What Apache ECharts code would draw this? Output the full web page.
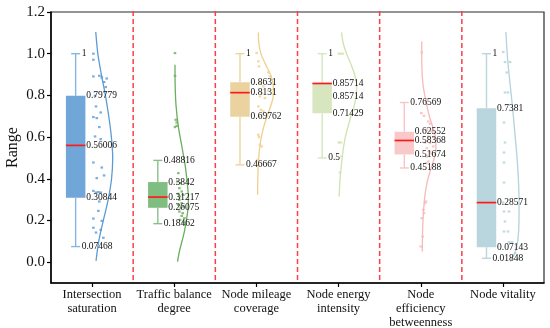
<!DOCTYPE html>
<html>
<head>
<meta charset="utf-8">
<script src="https://cdn.jsdelivr.net/npm/echarts@6/dist/echarts.min.js"></script>
<style>html,body{margin:0;padding:0;background:#fff}#c{width:550px;height:328px}</style>
</head>
<body>
<div id="c"></div>
<script>
// ---------- data ----------
const categories = ['Intersection\nsaturation','Traffic balance\ndegree','Node mileage\ncoverage','Node energy\nintensity','Node\nefficiency\nbetweenness','Node vitality'];
const boxPositions = [1, 2, 3, 4, 5, 6];
const tickPositions = [1.2, 2.2, 3.2, 4.2, 5.2, 6.2];
const separators = [1.7, 2.7, 3.7, 4.7, 5.7];
const yTicks = [0, 0.2, 0.4, 0.6, 0.8, 1.0, 1.2];

const whiskerLow  = [0.07468, 0.18462, 0.46667, 0.5,     0.45188, 0.01848];
const quartile1   = [0.30844, 0.26075, 0.69762, 0.71429, 0.51674, 0.07143];
const median      = [0.56006, 0.31217, 0.8131,  0.85714, 0.58368, 0.28571];
const quartile3   = [0.79779, 0.3842,  0.8631,  0.85714, 0.62552, 0.7381];
const whiskerHigh = [1,       0.48816, 1,       1,       0.76569, 1];

// raw points: [value, horizontal offset from box position]
const points1 = [[1.0,0.216],[0.971,0.216],[0.891,0.216],[0.894,0.288],[0.886,0.318],[0.881,0.378],[0.864,0.346],[0.840,0.366],[0.798,0.236],[0.747,0.248],[0.718,0.305],[0.696,0.216],[0.691,0.257],[0.648,0.288],[0.603,0.236],[0.590,0.305],[0.478,0.216],[0.454,0.318],[0.416,0.346],[0.403,0.257],[0.342,0.216],[0.336,0.276],[0.334,0.248],[0.334,0.305],[0.291,0.288],[0.246,0.276],[0.209,0.216],[0.198,0.318],[0.165,0.216],[0.155,0.305],[0.142,0.248],[0.117,0.337]];
const points2 = [[1.003,0.209],[0.894,0.209],[0.683,0.218],[0.670,0.230],[0.654,0.230],[0.648,0.209],[0.427,0.249],[0.387,0.237],[0.379,0.279],[0.355,0.262],[0.339,0.291],[0.328,0.249],[0.323,0.310],[0.315,0.270],[0.299,0.262],[0.283,0.291],[0.275,0.249],[0.267,0.310],[0.259,0.279],[0.243,0.262],[0.235,0.303],[0.222,0.291],[0.211,0.323],[0.203,0.270],[0.190,0.310]];
const points3 = [[1.003,0.203],[0.963,0.223],[0.939,0.231],[0.910,0.344],[0.891,0.365],[0.859,0.243],[0.843,0.284],[0.823,0.344],[0.811,0.264],[0.795,0.243],[0.787,0.304],[0.747,0.223],[0.731,0.256],[0.723,0.284],[0.699,0.231],[0.611,0.223],[0.600,0.231],[0.563,0.243],[0.555,0.264],[0.491,0.215]];
const points4 = [[1.0,0.203],[1.0,0.228],[1.0,0.252],[0.574,0.203],[0.574,0.228],[0.507,0.236],[0.43,0.215]];
const points5 = [[1.006,0.212],[0.715,0.207],[0.702,0.240],[0.675,0.292],[0.664,0.313],[0.635,0.273],[0.627,0.333],[0.603,0.292],[0.600,0.353],[0.574,0.252],[0.571,0.313],[0.555,0.353],[0.547,0.273],[0.531,0.313],[0.520,0.333],[0.507,0.273],[0.483,0.292],[0.475,0.264],[0.291,0.264],[0.283,0.252],[0.251,0.231],[0.235,0.240],[0.211,0.212],[0.123,0.224],[0.075,0.200]];
const points6 = [[1.008,0.204],[0.960,0.225],[0.960,0.286],[0.910,0.246],[0.814,0.225],[0.814,0.262],[0.670,0.213],[0.574,0.225],[0.526,0.213],[0.478,0.213],[0.382,0.213],[0.286,0.204],[0.243,0.213],[0.243,0.274],[0.195,0.225],[0.147,0.213],[0.147,0.262],[0.096,0.274],[0.096,0.310],[0.043,0.347],[0.019,0.383]];

// density outlines: [value, horizontal offset from box position]
const density1 = [[1.104,0.245],[1.0,0.270],[0.9,0.313],[0.8,0.362],[0.7,0.403],[0.6,0.435],[0.5,0.451],[0.4,0.437],[0.3,0.396],[0.2,0.337],[0.1,0.281],[0.006,0.248]];
const density2 = [[0.947,0.209],[0.85,0.211],[0.75,0.222],[0.65,0.250],[0.55,0.295],[0.45,0.338],[0.35,0.366],[0.3,0.372],[0.25,0.366],[0.15,0.325],[0.05,0.262],[0.003,0.240]];
const density3 = [[1.102,0.223],[1.05,0.230],[1.0,0.255],[0.95,0.310],[0.9,0.370],[0.85,0.405],[0.8,0.405],[0.75,0.375],[0.7,0.330],[0.65,0.290],[0.6,0.260],[0.55,0.240],[0.5,0.228],[0.45,0.221],[0.4,0.217],[0.323,0.214]];
const density4 = [[1.102,0.236],[1.05,0.256],[1.0,0.297],[0.95,0.350],[0.9,0.395],[0.85,0.420],[0.8,0.415],[0.75,0.390],[0.7,0.350],[0.65,0.315],[0.6,0.282],[0.55,0.260],[0.5,0.243],[0.45,0.230],[0.4,0.218],[0.315,0.207]];
const density5 = [[1.059,0.212],[0.95,0.213],[0.85,0.228],[0.75,0.275],[0.7,0.305],[0.65,0.345],[0.6,0.378],[0.55,0.385],[0.5,0.365],[0.45,0.325],[0.4,0.288],[0.35,0.262],[0.3,0.245],[0.2,0.227],[0.1,0.220],[0.051,0.219]];
const density6 = [[1.104,0.237],[1.0,0.252],[0.9,0.275],[0.8,0.302],[0.7,0.327],[0.6,0.350],[0.5,0.372],[0.4,0.388],[0.3,0.396],[0.2,0.396],[0.1,0.380],[0.05,0.350],[0.003,0.290]];

const boxColors   = ['#70a6d8','#80bd80','#ebd39f','#d8e6c0','#f9c9c9','#b9d5de'];
const whiskColors = ['#86b7e3','#86c086','#ecd49f','#d6e5bc','#f9c4c4','#b9d5de'];
const markColors  = ['#5b9bd5','#6aae5e','#efcf8d','#d0e2ae','#f8b9b9','#b3d2dc'];

// ---------- chart ----------
const allPoints = [points1, points2, points3, points4, points5, points6];
const allDensity = [density1, density2, density3, density4, density5, density6];
const serif = '"Liberation Serif", "Times New Roman", serif';

const series = [];
series.push({
  type: 'custom', silent: true, z: 1,
  data: separators.map(x => [x]),
  encode: {x: 0},
  renderItem: (params, api) => {
    const x = api.value(0);
    const a = api.coord([x, 1.2]), b = api.coord([x, -0.1]);
    return {type: 'line', shape: {x1: a[0], y1: a[1] - 1, x2: b[0], y2: b[1]},
      style: {stroke: '#ff3d4a', lineWidth: 1.5, lineDash: [5, 3]}};
  }
});
allDensity.forEach((d, i) => {
  series.push({
    type: 'line', smooth: 0.35, symbol: 'none', silent: true, z: 2,
    data: d.map(p => [boxPositions[i] + p[1], p[0]]),
    lineStyle: {color: markColors[i], width: 1.3}
  });
});
allPoints.forEach((d, i) => {
  series.push({
    type: 'scatter', symbol: 'rect', symbolSize: [2.6, 2.2], silent: true, z: 3,
    data: d.map(p => [boxPositions[i] + p[1], p[0]]),
    itemStyle: {color: markColors[i]}
  });
});
series.push({
  type: 'custom', silent: true, z: 4,
  data: boxPositions.map((x, i) => [x, whiskerLow[i], quartile1[i], median[i], quartile3[i], whiskerHigh[i], i]),
  encode: {x: 0, y: [1, 2, 3, 4, 5]},
  renderItem: (params, api) => {
    const x0 = api.value(0), i = api.value(6);
    const vals = [1, 2, 3, 4, 5].map(k => api.value(k));
    const P = vals.map(v => api.coord([x0, v]));
    const cx = P[0][0], hw = 9.75, cw = 4.5;
    const wc = whiskColors[i], bc = boxColors[i];
    const font = '9.5px ' + serif;
    const lbl = (txt, x, y) => ({type: 'text', style: {text: txt, x: x, y: y, fill: '#111', font: font, align: 'left', verticalAlign: 'middle'}});
    const ln = (x1, y1, x2, y2, c, w) => ({type: 'line', shape: {x1, y1, x2, y2}, style: {stroke: c, lineWidth: w}});
    let medY = P[2][1];
    if (vals[2] === vals[3]) medY = P[3][1] + 13;
    return {type: 'group', children: [
      ln(cx, P[3][1], cx, P[4][1], wc, 1.4),
      ln(cx, P[1][1], cx, P[0][1], wc, 1.4),
      ln(cx - cw, P[4][1], cx + cw, P[4][1], wc, 1.4),
      ln(cx - cw, P[0][1], cx + cw, P[0][1], wc, 1.4),
      {type: 'rect', shape: {x: cx - hw, y: P[3][1], width: 2 * hw, height: P[1][1] - P[3][1]}, style: {fill: bc}},
      ln(cx - hw, P[2][1], cx + hw, P[2][1], '#ff1a1a', 1.7),
      lbl(String(vals[4]), cx + cw + 1.5, P[4][1]),
      lbl(String(vals[3]), cx + hw + 0.8, P[3][1]),
      lbl(String(vals[2]), cx + hw + 0.8, medY),
      lbl(String(vals[1]), cx + hw + 0.8, P[1][1]),
      lbl(String(vals[0]), cx + cw + 1.5, P[0][1])
    ]};
  }
});

const chart = echarts.init(document.getElementById('c'), null, {renderer: 'canvas'});
chart.setOption({
  animation: false,
  backgroundColor: '#fff',
  grid: {left: 51, right: 6, top: 12, bottom: 45, containLabel: false, outerBoundsMode: 'none',
    show: true, borderColor: '#2b2b2b', borderWidth: 1.2, backgroundColor: 'transparent'},
  xAxis: {
    type: 'value', min: 0.7, max: 6.7,
    axisLine: {show: true, onZero: false, lineStyle: {color: '#000', width: 1.5}},
    axisTick: {show: true, customValues: tickPositions, length: 4, lineStyle: {color: '#000', width: 1.2}},
    axisLabel: {customValues: tickPositions, margin: 5, color: '#111', fontFamily: serif, fontSize: 12.5, lineHeight: 14,
      formatter: v => { const k = tickPositions.findIndex(t => Math.abs(t - v) < 1e-6); return k >= 0 ? categories[k] : ''; }},
    splitLine: {show: false}
  },
  yAxis: {
    type: 'value', min: -0.1, max: 1.2,
    name: 'Range', nameLocation: 'middle', nameGap: 30, nameMoveOverlap: false,
    nameTextStyle: {fontFamily: serif, fontSize: 16, color: '#111'},
    axisLine: {show: true, onZero: false, lineStyle: {color: '#000', width: 1.5}},
    axisTick: {show: true, customValues: yTicks, length: 4, lineStyle: {color: '#000', width: 1.2}},
    axisLabel: {customValues: yTicks, margin: 6, color: '#111', fontFamily: serif, fontSize: 15, formatter: v => v.toFixed(1)},
    splitLine: {show: false}
  },
  series: series
});
</script>
</body>
</html>
